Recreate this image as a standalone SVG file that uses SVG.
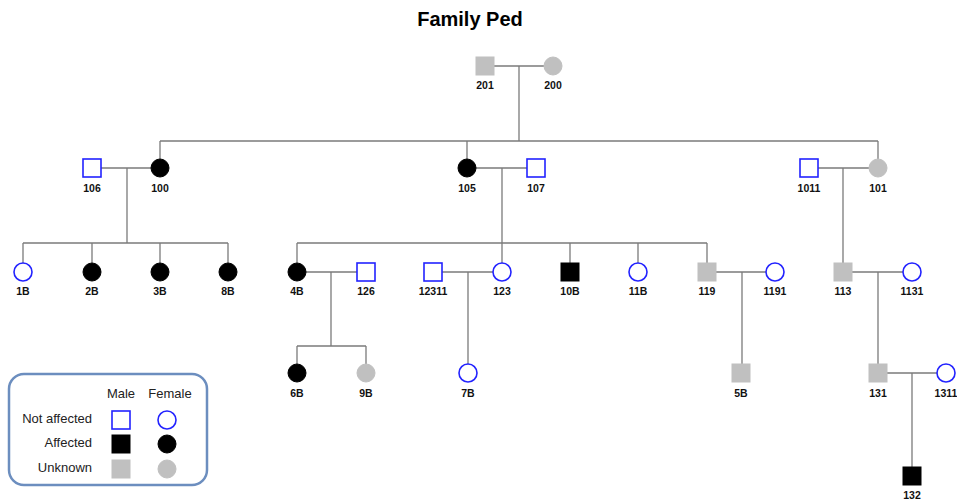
<svg xmlns="http://www.w3.org/2000/svg" width="957" height="501" viewBox="0 0 957 501">
<style>
.t{font-family:"Liberation Sans",Arial,sans-serif;font-size:20px;font-weight:bold;fill:#000}
.l{font-family:"Liberation Sans",Arial,sans-serif;font-size:10.5px;font-weight:bold;fill:#111;text-anchor:middle}
.g{font-family:"Liberation Sans",Arial,sans-serif;font-size:13px;fill:#222}
.na{fill:#fff;stroke:#2222ff;stroke-width:1.6}
.af{fill:#000;stroke:#000;stroke-width:1}
.un{fill:#c0c0c0;stroke:#c0c0c0;stroke-width:1}
.c line{stroke:#7a7a7a;stroke-width:1.3}
</style>
<rect width="957" height="501" fill="#fff"/>
<text class="t" x="470" y="26" text-anchor="middle">Family Ped</text>
<g class="c" id="connectors">
<line x1="494" y1="66" x2="544" y2="66"/>
<line x1="519" y1="66" x2="519" y2="141"/>
<line x1="160" y1="141" x2="878" y2="141"/>
<line x1="160" y1="141" x2="160" y2="159"/>
<line x1="467" y1="141" x2="467" y2="159"/>
<line x1="878" y1="141" x2="878" y2="159"/>
<line x1="101" y1="168" x2="151" y2="168"/>
<line x1="127" y1="168" x2="127" y2="243"/>
<line x1="23" y1="243" x2="228" y2="243"/>
<line x1="23" y1="243" x2="23" y2="263"/>
<line x1="92" y1="243" x2="92" y2="263"/>
<line x1="160" y1="243" x2="160" y2="263"/>
<line x1="228" y1="243" x2="228" y2="263"/>
<line x1="476" y1="168" x2="527" y2="168"/>
<line x1="502" y1="168" x2="502" y2="243"/>
<line x1="297" y1="243" x2="707" y2="243"/>
<line x1="297" y1="243" x2="297" y2="263"/>
<line x1="502" y1="243" x2="502" y2="263"/>
<line x1="570" y1="243" x2="570" y2="263"/>
<line x1="638" y1="243" x2="638" y2="263"/>
<line x1="707" y1="243" x2="707" y2="263"/>
<line x1="818" y1="168" x2="869" y2="168"/>
<line x1="843" y1="168" x2="843" y2="263"/>
<line x1="306" y1="272" x2="357" y2="272"/>
<line x1="331" y1="272" x2="331" y2="346"/>
<line x1="297" y1="346" x2="366" y2="346"/>
<line x1="297" y1="346" x2="297" y2="364"/>
<line x1="366" y1="346" x2="366" y2="364"/>
<line x1="442" y1="272" x2="493" y2="272"/>
<line x1="468" y1="272" x2="468" y2="364"/>
<line x1="716" y1="272" x2="766" y2="272"/>
<line x1="742" y1="272" x2="742" y2="364"/>
<line x1="852" y1="272" x2="903" y2="272"/>
<line x1="878" y1="272" x2="878" y2="364"/>
<line x1="887" y1="373" x2="937" y2="373"/>
<line x1="912" y1="373" x2="912" y2="467"/>
</g>
<g id="n201"><rect class="un" x="476" y="57" width="18" height="18"/><text class="l" x="485" y="89">201</text></g>
<g id="n200"><circle class="un" cx="553" cy="66" r="9"/><text class="l" x="553" y="89">200</text></g>
<g id="n106"><rect class="na" x="83" y="159" width="18" height="18"/><text class="l" x="92" y="192">106</text></g>
<g id="n100"><circle class="af" cx="160" cy="168" r="9"/><text class="l" x="160" y="192">100</text></g>
<g id="n105"><circle class="af" cx="467" cy="168" r="9"/><text class="l" x="467" y="192">105</text></g>
<g id="n107"><rect class="na" x="527" y="159" width="18" height="18"/><text class="l" x="536" y="192">107</text></g>
<g id="n1011"><rect class="na" x="800" y="159" width="18" height="18"/><text class="l" x="809" y="192">1011</text></g>
<g id="n101"><circle class="un" cx="878" cy="168" r="9"/><text class="l" x="878" y="192">101</text></g>
<g id="n1B"><circle class="na" cx="23" cy="272" r="9"/><text class="l" x="23" y="295">1B</text></g>
<g id="n2B"><circle class="af" cx="92" cy="272" r="9"/><text class="l" x="92" y="295">2B</text></g>
<g id="n3B"><circle class="af" cx="160" cy="272" r="9"/><text class="l" x="160" y="295">3B</text></g>
<g id="n8B"><circle class="af" cx="228" cy="272" r="9"/><text class="l" x="228" y="295">8B</text></g>
<g id="n4B"><circle class="af" cx="297" cy="272" r="9"/><text class="l" x="297" y="295">4B</text></g>
<g id="n126"><rect class="na" x="357" y="263" width="18" height="18"/><text class="l" x="366" y="295">126</text></g>
<g id="n12311"><rect class="na" x="424" y="263" width="18" height="18"/><text class="l" x="433" y="295">12311</text></g>
<g id="n123"><circle class="na" cx="502" cy="272" r="9"/><text class="l" x="502" y="295">123</text></g>
<g id="n10B"><rect class="af" x="561" y="263" width="18" height="18"/><text class="l" x="570" y="295">10B</text></g>
<g id="n11B"><circle class="na" cx="638" cy="272" r="9"/><text class="l" x="638" y="295">11B</text></g>
<g id="n119"><rect class="un" x="698" y="263" width="18" height="18"/><text class="l" x="707" y="295">119</text></g>
<g id="n1191"><circle class="na" cx="775" cy="272" r="9"/><text class="l" x="775" y="295">1191</text></g>
<g id="n113"><rect class="un" x="834" y="263" width="18" height="18"/><text class="l" x="843" y="295">113</text></g>
<g id="n1131"><circle class="na" cx="912" cy="272" r="9"/><text class="l" x="912" y="295">1131</text></g>
<g id="n6B"><circle class="af" cx="297" cy="373" r="9"/><text class="l" x="297" y="397">6B</text></g>
<g id="n9B"><circle class="un" cx="366" cy="373" r="9"/><text class="l" x="366" y="397">9B</text></g>
<g id="n7B"><circle class="na" cx="468" cy="373" r="9"/><text class="l" x="468" y="397">7B</text></g>
<g id="n5B"><rect class="un" x="732" y="364" width="18" height="18"/><text class="l" x="741" y="397">5B</text></g>
<g id="n131"><rect class="un" x="869" y="364" width="18" height="18"/><text class="l" x="878" y="397">131</text></g>
<g id="n1311"><circle class="na" cx="946" cy="373" r="9"/><text class="l" x="946" y="397">1311</text></g>
<g id="n132"><rect class="af" x="903" y="467" width="18" height="18"/><text class="l" x="912" y="499">132</text></g>
<g id="legend">
<rect x="9" y="374" width="198" height="111" rx="15" ry="15" fill="#fff" stroke="#6c8ebf" stroke-width="2.5"/>
<text class="g" x="121" y="398" text-anchor="middle">Male</text>
<text class="g" x="170" y="398" text-anchor="middle">Female</text>
<text class="g" x="92" y="423" text-anchor="end">Not affected</text>
<text class="g" x="92" y="447" text-anchor="end">Affected</text>
<text class="g" x="92" y="472" text-anchor="end">Unknown</text>
<rect class="na" x="112" y="411" width="18" height="18"/>
<circle class="na" cx="167" cy="420" r="9"/>
<rect class="af" x="112" y="435" width="18" height="18"/>
<circle class="af" cx="167" cy="444" r="9"/>
<rect class="un" x="112" y="460" width="18" height="18"/>
<circle class="un" cx="167" cy="469" r="9"/>
</g>
</svg>
